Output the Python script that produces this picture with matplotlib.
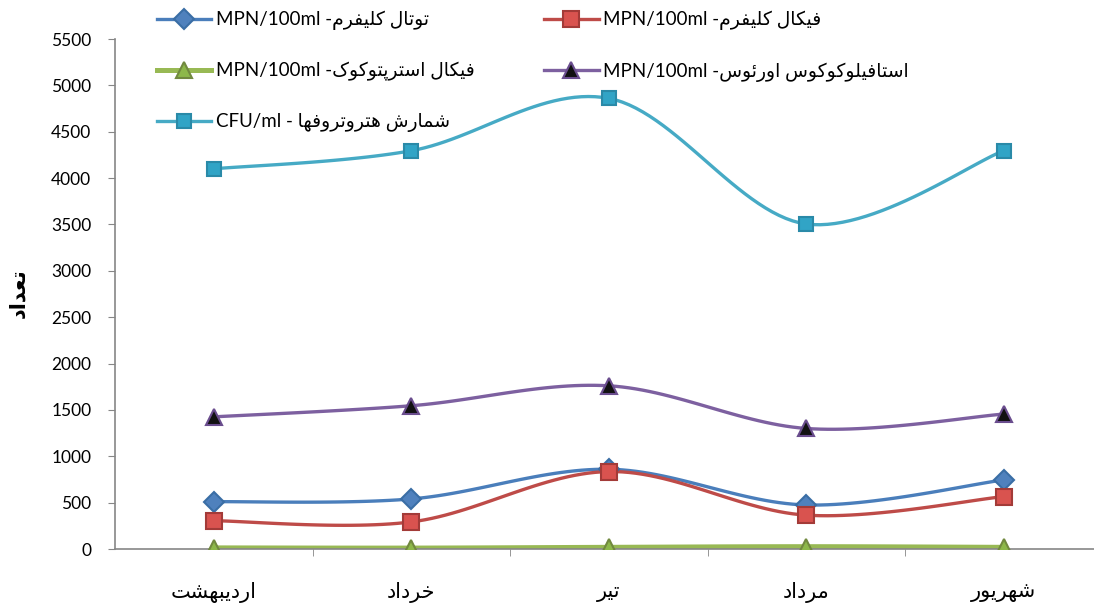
import re
import numpy as np
import matplotlib
matplotlib.use("Agg")
import matplotlib.pyplot as plt
from matplotlib.ticker import MultipleLocator, FixedLocator

# --- data -------------------------------------------------------------
months = ["اردیبهشت", "خرداد", "تیر", "مرداد", "شهریور"]

total_coliform = [510, 540, 860, 475, 745]
fecal_coliform = [305, 292, 835, 365, 565]
fecal_strep = [12, 10, 18, 25, 18]
staph = [1425, 1545, 1760, 1300, 1455]
hpc = [4100, 4295, 4860, 3505, 4295]

labels = [
    "توتال کلیفرم- MPN/100ml",
    "فیکال کلیفرم- MPN/100ml",
    "فیکال استرپتوکوک- MPN/100ml",
    "استافیلوکوکوس اورئوس- MPN/100ml",
    "شمارش هتروتروفها - CFU/ml",
]
ylabel = "تعداد"

# --- minimal arabic/persian shaping (matplotlib does no shaping) ------
FORMS = {
    "ا": ("\uFE8D", "\uFE8E"), "د": ("\uFEA9", "\uFEAA"), "ر": ("\uFEAD", "\uFEAE"),
    "و": ("\uFEED", "\uFEEE"),
    "ب": ("\uFE8F", "\uFE90", "\uFE91", "\uFE92"), "ت": ("\uFE95", "\uFE96", "\uFE97", "\uFE98"),
    "خ": ("\uFEA5", "\uFEA6", "\uFEA7", "\uFEA8"), "س": ("\uFEB1", "\uFEB2", "\uFEB3", "\uFEB4"),
    "ش": ("\uFEB5", "\uFEB6", "\uFEB7", "\uFEB8"), "ع": ("\uFEC9", "\uFECA", "\uFECB", "\uFECC"),
    "ف": ("\uFED1", "\uFED2", "\uFED3", "\uFED4"), "ل": ("\uFEDD", "\uFEDE", "\uFEDF", "\uFEE0"),
    "م": ("\uFEE1", "\uFEE2", "\uFEE3", "\uFEE4"), "ه": ("\uFEE9", "\uFEEA", "\uFEEB", "\uFEEC"),
    "ئ": ("\uFE89", "\uFE8A", "\uFE8B", "\uFE8C"), "پ": ("\uFB56", "\uFB57", "\uFB58", "\uFB59"),
    "ک": ("\uFB8E", "\uFB8F", "\uFB90", "\uFB91"), "ی": ("\uFBFC", "\uFBFD", "\uFBFE", "\uFBFF"),
}


def rtl(s):
    out = []
    for i, ch in enumerate(s):
        f = FORMS.get(ch)
        if f is None:
            out.append(ch)
            continue
        prev = s[i - 1] if i > 0 else ""
        nxt = s[i + 1] if i + 1 < len(s) else ""
        jp = prev in FORMS and len(FORMS[prev]) == 4
        jn = len(f) == 4 and nxt in FORMS
        if jp and jn:
            out.append(f[3])
        elif jp:
            out.append(f[1])
        elif jn:
            out.append(f[2])
        else:
            out.append(f[0])
    vis = "".join(out)[::-1]
    return re.sub(r"[A-Za-z0-9/]+", lambda m: m.group(0)[::-1], vis)


def smooth(y, n=30):
    # excel-like smoothed line: cubic bezier through the points
    x = np.arange(len(y), dtype=float)
    y = np.asarray(y, dtype=float)
    px = np.concatenate([[x[0]], x, [x[-1]]])
    py = np.concatenate([[y[0]], y, [y[-1]]])
    t = np.linspace(0, 1, n)[:, None]
    xs, ys = [], []
    for i in range(len(y) - 1):
        p0 = np.array([px[i + 1], py[i + 1]])
        p3 = np.array([px[i + 2], py[i + 2]])
        c1 = p0 + (np.array([px[i + 2], py[i + 2]]) - np.array([px[i], py[i]])) / 6
        c2 = p3 - (np.array([px[i + 3], py[i + 3]]) - np.array([px[i + 1], py[i + 1]])) / 6
        b = (1 - t) ** 3 * p0 + 3 * (1 - t) ** 2 * t * c1 + 3 * (1 - t) * t ** 2 * c2 + t ** 3 * p3
        xs.append(b[:, 0])
        ys.append(b[:, 1])
    return np.concatenate(xs), np.concatenate(ys)


plt.rcParams["font.family"] = ["Lato", "DejaVu Sans"]

fig = plt.figure(figsize=(10.94, 6.10), dpi=100)
ax = fig.add_axes([115 / 1094, 61 / 610, 987.5 / 1094, 510 / 610])

series = [
    (total_coliform, "#4A7EBB", "D", "#4F81BD", "#3A6EA5", 10, 2.4),
    (fecal_coliform, "#BE4B48", "s", "#D9534F", "#A33B38", 11, 2.4),
    (fecal_strep, "#98B954", "^", "#8DB84A", "#71893F", 12, 3.6),
    (staph, "#7D60A0", "^", "#111111", "#6A4D8E", 12, 2.4),
    (hpc, "#46AAC5", "s", "#31A4C6", "#2A8AA8", 10, 2.4),
]

handles = []
x = np.arange(len(months))
for (vals, col, mk, fc, ec, ms, lw), lab in zip(series, labels):
    sx, sy = smooth(vals)
    ax.plot(sx, sy, color=col, lw=lw, solid_capstyle="round", zorder=2)
    ax.plot(x, vals, ls="none", marker=mk, ms=ms, mfc=fc, mec=ec, mew=1.5, zorder=3)
    h, = ax.plot([], [], color=col, lw=lw, marker=mk, ms=ms, mfc=fc, mec=ec, mew=1.5,
                 label=rtl(lab))
    handles.append(h)

ax.set_xlim(-0.5, 4.5)
ax.set_ylim(0, 5500)
ax.yaxis.set_major_locator(MultipleLocator(500))
ax.set_xticks(x)
ax.set_xticklabels([rtl(m) for m in months], fontsize=15, family="DejaVu Sans")
ax.xaxis.set_minor_locator(FixedLocator([0.5, 1.5, 2.5, 3.5]))
ax.tick_params(axis="x", which="major", length=0, pad=24)
ax.tick_params(axis="x", which="minor", length=5, color="#868686", direction="out")
ax.tick_params(axis="y", length=5, color="#868686", labelsize=12.5, pad=12)

for s in ["top", "right"]:
    ax.spines[s].set_visible(False)
for s in ["left", "bottom"]:
    ax.spines[s].set_color("#868686")
    ax.spines[s].set_linewidth(1.2)

fig.text(18 / 1094, 1 - 293 / 610, rtl(ylabel), rotation=90, ha="center", va="center",
         fontsize=15, fontweight="bold", family="DejaVu Sans")

order = [0, 2, 4, 1, 3]
fig.legend([handles[i] for i in order], [handles[i].get_label() for i in order],
           ncol=2, loc="upper left", bbox_to_anchor=(157 / 1094, 1 - 11 / 610),
           frameon=False, fontsize=13.5, handlelength=2.9, handletextpad=0.25,
           labelspacing=1.7, columnspacing=3.7, borderpad=0, borderaxespad=0)

fig.savefig("out.png", dpi=100)
